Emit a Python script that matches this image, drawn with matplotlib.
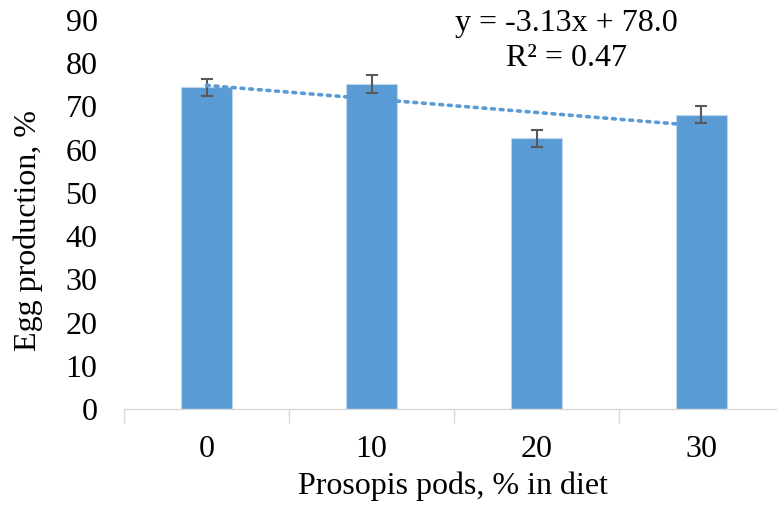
import numpy as np
import matplotlib
matplotlib.use("Agg")
import matplotlib.pyplot as plt

plt.rcParams['font.family'] = ['Liberation Serif', 'DejaVu Serif']

# data
levels = ["0", "10", "20", "30"]
egg_prod = [74.4, 75.1, 62.6, 68.1]
egg_err = [2.0, 2.1, 2.0, 2.0]
slope, intercept = -3.13, 78.0
yticks = [0, 10, 20, 30, 40, 50, 60, 70, 80, 90]

blue = "#5B9BD5"
fs = 23
fig = plt.figure(figsize=(7.77, 5.12), dpi=100)
ax = fig.add_axes([124/777, 1-409/512, 660/777, 389/512])

x = np.arange(len(levels))
ax.bar(x, egg_prod, width=0.31, color=blue, edgecolor="#BDD7EE", linewidth=0.8, zorder=2)
ax.errorbar(x, egg_prod, yerr=egg_err, fmt="none", ecolor="#595959",
            elinewidth=1.5, capsize=4, capthick=1.5, zorder=3)

# linear trendline (Excel style, x = 1..n)
xt = np.array([0, len(levels)-1])
ax.plot(xt, slope*(xt+1)+intercept, linestyle=(0, (0.8, 1.6)), color=blue,
        linewidth=2.6, dash_capstyle="round", zorder=4)

fig.text(566/777, 1-24/512, "y = -3.13x + 78.0", ha="center", va="center", fontsize=fs)
fig.text(566/777, 1-59/512, "R² = 0.47", ha="center", va="center", fontsize=fs)

ax.set_xlim(-0.5, 3.5)
ax.set_ylim(0, 90)
ax.set_yticks(yticks)
ax.set_xticks(x)
ax.set_xticklabels(levels)
ax.set_xticks(np.arange(-0.5, 4.0, 1.0), minor=True)
ax.tick_params(axis="x", which="major", length=0, pad=19, labelsize=fs)
ax.tick_params(axis="x", which="minor", length=10, width=1, color="#D9D9D9")
ax.tick_params(axis="y", length=0, pad=19, labelsize=fs)
for s in ["top", "right", "left"]:
    ax.spines[s].set_visible(False)
ax.spines["bottom"].set_color("#D9D9D9")
ax.spines["bottom"].set_linewidth(1)

ax.set_xlabel("Prosopis pods, % in diet", fontsize=fs)
ax.set_ylabel("Egg production, %", fontsize=fs)
ax.xaxis.set_label_coords(0.498, -0.161)
ax.yaxis.set_label_coords(-0.122, 0.46)

fig.savefig("out.png", dpi=100)
